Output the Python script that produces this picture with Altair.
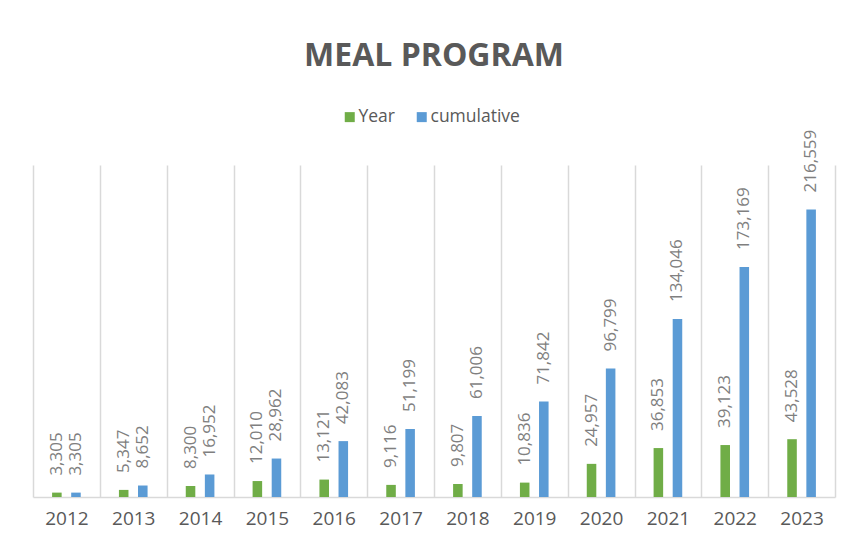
import altair as alt
import pandas as pd

years = ["2012", "2013", "2014", "2015", "2016", "2017",
         "2018", "2019", "2020", "2021", "2022", "2023"]
year_values = [3305, 5347, 8300, 12010, 13121, 9116,
               9807, 10836, 24957, 36853, 39123, 43528]
cumulative_values = [3305, 8652, 16952, 28962, 42083, 51199,
                     61006, 71842, 96799, 134046, 173169, 216559]
series_names = ["Year", "cumulative"]
series_colors = ["#70AD47", "#5B9BD5"]

rows = []
for i, yr in enumerate(years):
    rows.append({"year": yr, "series": series_names[0], "value": year_values[i]})
    rows.append({"year": yr, "series": series_names[1], "value": cumulative_values[i]})
df = pd.DataFrame(rows)

base = alt.Chart(df).encode(
    x=alt.X(
        "year:N",
        sort=years,
        scale=alt.Scale(paddingInner=0, paddingOuter=0),
        axis=alt.Axis(
            title=None, labelAngle=0, grid=True, tickBand="extent", ticks=False,
            domainColor="#d9d9d9", domainWidth=1.5, gridColor="#d9d9d9", gridWidth=1.5,
            labelFont="Open Sans", labelFontSize=19, labelColor="#595959", labelPadding=12,
        ),
    ),
    xOffset=alt.XOffset("series:N", sort=series_names,
                        scale=alt.Scale(paddingInner=0.5, paddingOuter=1)),
    y=alt.Y("value:Q", scale=alt.Scale(domain=[0, 250000]), axis=None),
)

bars = base.mark_bar().encode(
    color=alt.Color(
        "series:N", sort=series_names,
        scale=alt.Scale(domain=series_names, range=series_colors),
        legend=alt.Legend(
            title=None, orient="none", legendX=308, legendY=-57,
            direction="horizontal", symbolType="square", symbolSize=100,
            symbolStrokeWidth=0, labelFont="Open Sans", labelFontSize=17.5,
            labelColor="#595959", columnPadding=18, labelOffset=0,
        ),
    )
)

labels = base.mark_text(
    angle=270, align="left", baseline="middle", dx=17,
    font="Open Sans", fontSize=17, color="#7f7f7f",
).encode(text=alt.Text("value:Q", format=","))

chart = alt.layer(bars, labels).properties(
    width=802, height=332,
    autosize=alt.AutoSizeParams(type="none"),
    padding={"left": 25, "top": 157, "right": 5, "bottom": 45},
    title=alt.TitleParams(
        "MEAL PROGRAM", font="Open Sans", fontSize=32, fontWeight="bold",
        color="#595959", anchor="middle", baseline="alphabetic", offset=10,
    ),
).configure_view(stroke=None)

chart.save("out.html", embed_options={"renderer": "svg", "actions": False})
